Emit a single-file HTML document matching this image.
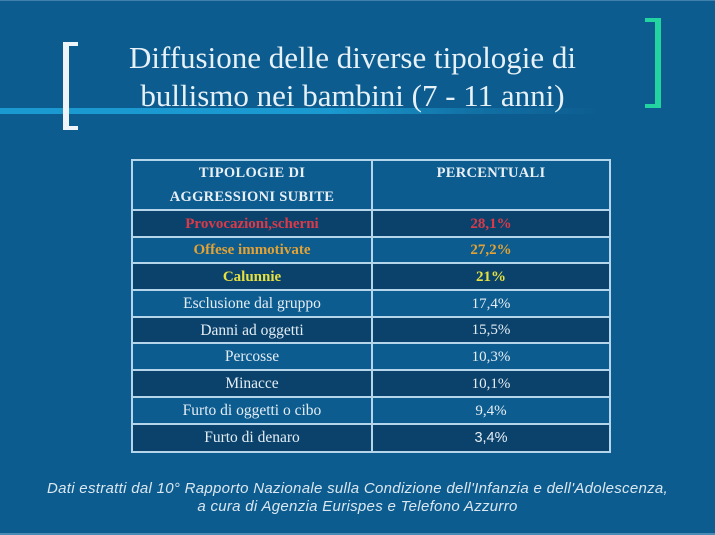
<!DOCTYPE html>
<html>
<head>
<meta charset="utf-8">
<style>
  html,body{margin:0;padding:0;}
  body{width:715px;height:535px;overflow:hidden;background:#0d5c8f;position:relative;font-family:"Liberation Serif",serif;}
  .abs{position:absolute;}
  .stripe{left:0;top:108px;width:715px;height:6px;background:linear-gradient(to right,#1a9ad0 0px,#1a9ad0 330px,rgba(26,154,208,0.35) 470px,rgba(26,154,208,0) 600px);}
  .title{left:0;width:705px;top:39px;text-align:center;color:#e6f1f8;font-family:"Liberation Serif",serif;font-size:31px;line-height:37.5px;}
  .br{background:#eef4f8;}
  .gr{background:#22d4a0;}
  .hl{height:2px;background:#b5d6ea;}
  .vl{width:2px;background:#b5d6ea;}
  .row{left:133px;width:476px;}
  .dark{background:#0a426c;}
  .cell{position:absolute;text-align:center;color:#e4edf4;font-size:15.5px;}
  .c1{left:133px;width:238px;}
  .c2{left:373px;width:236px;}
  .hd{font-weight:bold;font-size:14.5px;line-height:24px;color:#e8eff5;letter-spacing:0.3px;}
  .b{font-weight:bold;font-size:15px;}
  .foot{left:0;width:715px;text-align:center;color:#dbe7f0;font-family:"Liberation Sans",sans-serif;font-style:italic;font-size:15px;letter-spacing:0.3px;line-height:18px;}
</style>
</head>
<body>
  <div class="abs stripe"></div>
  <!-- left bracket -->
  <div class="abs br" style="left:63px;top:42px;width:6px;height:88px;"></div>
  <div class="abs br" style="left:63px;top:42px;width:15px;height:4px;"></div>
  <div class="abs br" style="left:63px;top:126px;width:15px;height:4px;"></div>
  <!-- right bracket -->
  <div class="abs gr" style="left:655px;top:18px;width:6px;height:90px;"></div>
  <div class="abs gr" style="left:645px;top:18px;width:16px;height:4px;"></div>
  <div class="abs gr" style="left:645px;top:104px;width:16px;height:4px;"></div>

  <div class="abs title">Diffusione delle diverse tipologie di<br>bullismo nei bambini (7 - 11 anni)</div>

  <!-- dark rows -->
  <div class="abs row dark" style="top:211px;height:26px;"></div>
  <div class="abs row dark" style="top:264px;height:26px;"></div>
  <div class="abs row dark" style="top:318px;height:25px;"></div>
  <div class="abs row dark" style="top:371px;height:26px;"></div>
  <div class="abs row dark" style="top:425px;height:26px;"></div>

  <!-- grid lines -->
  <div class="abs hl" style="left:131px;width:480px;top:159px;"></div>
  <div class="abs hl" style="left:131px;width:480px;top:209px;"></div>
  <div class="abs hl" style="left:131px;width:480px;top:236px;"></div>
  <div class="abs hl" style="left:131px;width:480px;top:262px;"></div>
  <div class="abs hl" style="left:131px;width:480px;top:289px;"></div>
  <div class="abs hl" style="left:131px;width:480px;top:316px;"></div>
  <div class="abs hl" style="left:131px;width:480px;top:342px;"></div>
  <div class="abs hl" style="left:131px;width:480px;top:369px;"></div>
  <div class="abs hl" style="left:131px;width:480px;top:396px;"></div>
  <div class="abs hl" style="left:131px;width:480px;top:423px;"></div>
  <div class="abs hl" style="left:131px;width:480px;top:451px;"></div>
  <div class="abs vl" style="left:131px;top:159px;height:294px;"></div>
  <div class="abs vl" style="left:371px;top:159px;height:294px;"></div>
  <div class="abs vl" style="left:609px;top:159px;height:294px;"></div>

  <!-- header -->
  <div class="cell c1 hd" style="top:161px;">TIPOLOGIE DI<br>AGGRESSIONI SUBITE</div>
  <div class="cell c2 hd" style="top:161px;">PERCENTUALI</div>

  <!-- rows -->
  <div class="cell c1 b" style="top:211px;line-height:26px;color:#dc3a48;">Provocazioni,scherni</div>
  <div class="cell c2 b" style="top:211px;line-height:26px;color:#dc3a48;">28,1%</div>

  <div class="cell c1 b" style="top:238px;line-height:25px;color:#e3a234;">Offese immotivate</div>
  <div class="cell c2 b" style="top:238px;line-height:25px;color:#e3a234;">27,2%</div>

  <div class="cell c1 b" style="top:264px;line-height:26px;color:#e6e040;">Calunnie</div>
  <div class="cell c2 b" style="top:264px;line-height:26px;color:#e6e040;">21%</div>

  <div class="cell c1" style="top:291px;line-height:26px;">Esclusione dal gruppo</div>
  <div class="cell c2" style="top:291px;line-height:26px;font-size:15px;">17,4%</div>

  <div class="cell c1" style="top:318px;line-height:25px;">Danni ad oggetti</div>
  <div class="cell c2" style="top:318px;line-height:25px;font-size:15px;">15,5%</div>

  <div class="cell c1" style="top:344px;line-height:26px;">Percosse</div>
  <div class="cell c2" style="top:344px;line-height:26px;font-size:15px;">10,3%</div>

  <div class="cell c1" style="top:371px;line-height:26px;">Minacce</div>
  <div class="cell c2" style="top:371px;line-height:26px;font-size:15px;">10,1%</div>

  <div class="cell c1" style="top:398px;line-height:26px;">Furto di oggetti o cibo</div>
  <div class="cell c2" style="top:398px;line-height:26px;font-size:15px;">9,4%</div>

  <div class="cell c1" style="top:425px;line-height:26px;">Furto di denaro</div>
  <div class="cell c2" style="top:425px;line-height:26px;font-family:'Liberation Sans',sans-serif;font-size:14.5px;">3,4%</div>

  <div class="abs foot" style="top:480px;">Dati estratti dal 10° Rapporto Nazionale sulla Condizione dell'Infanzia e dell'Adolescenza,<br>a cura di Agenzia Eurispes e Telefono Azzurro</div>

  <!-- edges -->
  <div class="abs" style="left:0;top:0;width:715px;height:1px;background:#3f80ad;"></div>
  <div class="abs" style="left:0;bottom:0;width:715px;height:2px;background:#4a8bb5;"></div>
</body>
</html>
